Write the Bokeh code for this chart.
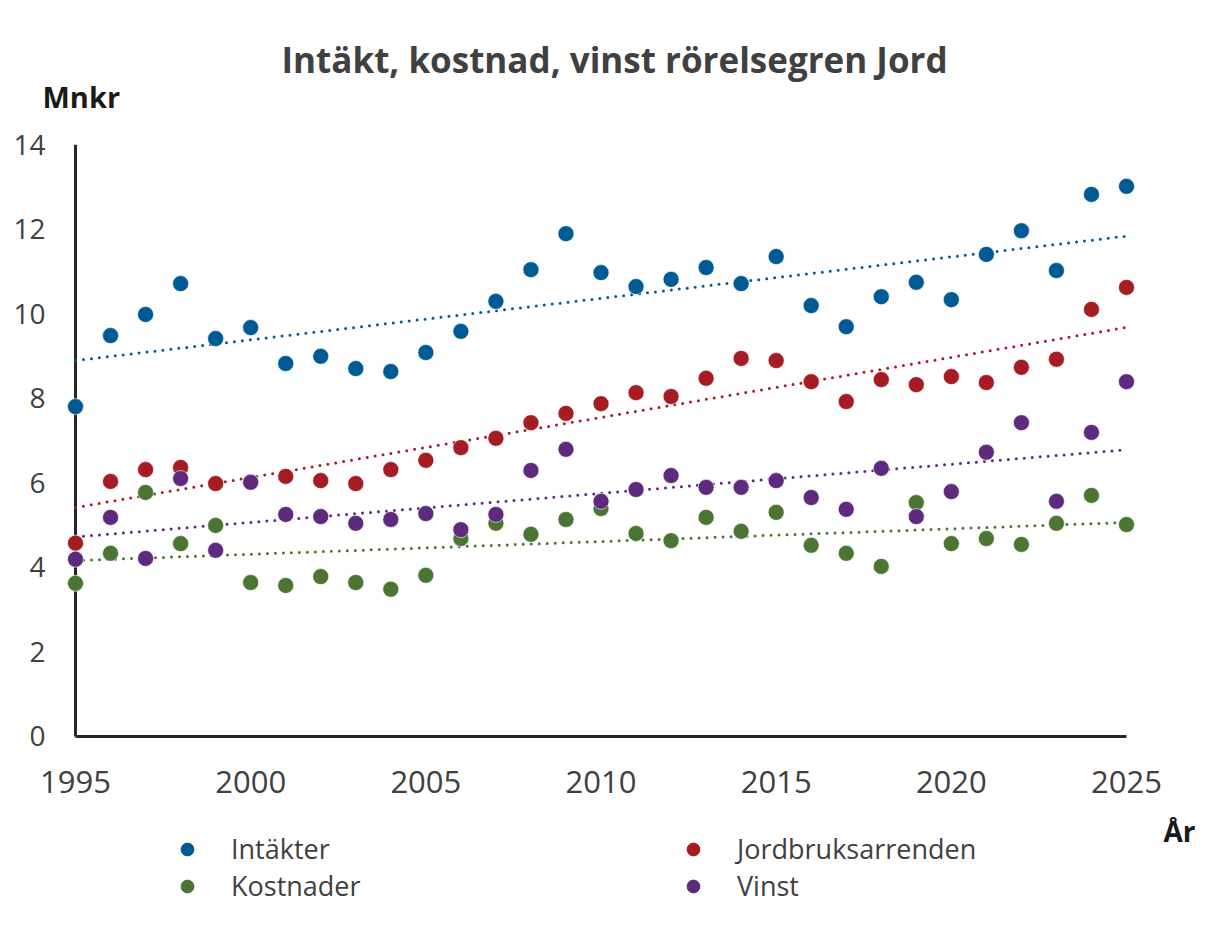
import numpy as np
from bokeh.plotting import figure
from bokeh.models import Range1d, Legend, LegendItem, Title, Label
from bokeh.layouts import column
from bokeh.embed import file_html
from bokeh.resources import INLINE

years = list(range(1995, 2026))

intakter = [7.80, 9.48, 9.98, 10.71, 9.41, 9.67, 8.82, 8.99, 8.70, 8.63,
            9.08, 9.58, 10.29, 11.04, 11.89, 10.97, 10.64, 10.81, 11.09, 10.71,
            11.35, 10.19, 9.69, 10.40, 10.74, 10.33, 11.40, 11.96, 11.02, 12.82,
            13.01]
jordbruk = [4.57, 6.03, 6.31, 6.36, 5.98, 6.02, 6.15, 6.05, 5.98, 6.31,
            6.53, 6.83, 7.05, 7.42, 7.64, 7.87, 8.13, 8.04, 8.47, 8.94,
            8.89, 8.39, 7.92, 8.44, 8.32, 8.51, 8.37, 8.73, 8.92, 10.10,
            10.62]
kostnader = [3.62, 4.33, 5.77, 4.56, 4.99, 3.64, 3.57, 3.78, 3.64, 3.48,
             3.81, 4.68, 5.04, 4.78, 5.13, 5.39, 4.80, 4.63, 5.18, 4.85,
             5.30, 4.52, 4.33, 4.02, 5.53, 4.56, 4.68, 4.54, 5.04, 5.70,
             5.01]
vinst = [4.19, 5.18, 4.21, 6.10, 4.40, 6.01, 5.25, 5.20, 5.04, 5.13,
         5.27, 4.89, 5.25, 6.29, 6.79, 5.56, 5.84, 6.17, 5.89, 5.89,
         6.05, 5.65, 5.37, 6.34, 5.20, 5.79, 6.72, 7.42, 5.56, 7.19,
         8.39]

series_names = ["Intäkter", "Jordbruksarrenden", "Kostnader", "Vinst"]
series_values = [intakter, jordbruk, kostnader, vinst]
colors = ["#005A94", "#A51C22", "#4A7533", "#5E2A7E"]
draw_order = [2, 0, 1, 3]

x_ticks = [1995, 2000, 2005, 2010, 2015, 2020, 2025]
y_ticks = [0, 2, 4, 6, 8, 10, 12, 14]

TEXT = "#404040"
FONT = "Open Sans"

# ---------------- main chart ----------------
p = figure(frame_width=1157, frame_height=594,
           x_range=Range1d(1994.486, 2027.512), y_range=Range1d(-0.05, 14),
           output_backend="svg", toolbar_location=None,
           min_border_left=57, min_border_right=0,
           min_border_top=144, min_border_bottom=78)
p.outline_line_color = None
p.xgrid.visible = False
p.ygrid.visible = False
p.background_fill_color = "white"
p.border_fill_color = "white"

p.title.text = "Intäkt, kostnad, vinst rörelsegren Jord"
p.title.align = "left"
p.title.offset = 224
p.title.standoff = -72
p.title.text_font = FONT
p.title.text_font_size = "35px"
p.title.text_font_style = "bold"
p.title.text_color = TEXT
p.add_layout(Title(text="Mnkr", align="left", offset=-15, standoff=57,
                   text_font=FONT, text_font_size="29px",
                   text_font_style="bold", text_color="#1a1a1a"), "above")

for ax in (p.xaxis[0], p.yaxis[0]):
    ax.axis_line_color = None
    ax.major_tick_line_color = None
    ax.minor_tick_line_color = None
    ax.major_label_text_color = TEXT
    ax.major_label_text_font = FONT
p.xaxis.ticker = x_ticks
p.yaxis.ticker = y_ticks
p.xaxis.major_label_text_font_size = "31px"
p.yaxis.major_label_text_font_size = "28px"
p.xaxis.major_label_standoff = 26
p.yaxis.major_label_standoff = 6

p.segment(x0=[years[0]], y0=[y_ticks[0]], x1=[years[0]], y1=[y_ticks[-1]],
          line_color="#262626", line_width=3)
p.segment(x0=[years[0]], y0=[y_ticks[0]], x1=[years[-1]], y1=[y_ticks[0]],
          line_color="#262626", line_width=3)

yrs = np.array(years, dtype=float)
for i in range(4):
    k, m = np.polyfit(yrs, np.array(series_values[i]), 1)
    xs = [years[0], years[-1]]
    p.line(xs, [k * x + m for x in xs], line_color=colors[i], line_width=3,
           line_dash="0 8", line_cap="round")

for i in draw_order:
    p.scatter(years, series_values[i], size=16, color=colors[i],
              line_color="white", line_width=0.6)

# ---------------- legend strip (pixel coordinates) ----------------
p2 = figure(width=1214, height=124, x_range=Range1d(57, 1214), y_range=Range1d(-124, 0),
            output_backend="svg", toolbar_location=None,
            min_border_left=57, min_border_right=0, min_border_top=0, min_border_bottom=0)
p2.axis.visible = False
p2.xgrid.visible = False
p2.ygrid.visible = False
p2.outline_line_color = None
p2.background_fill_color = "white"
p2.border_fill_color = "white"

# legend proxies: the same series, lying outside this strip's ranges
legend_renderers = [p2.scatter(years, series_values[i], size=16, color=colors[i])
                    for i in range(4)]

legend = Legend(items=[LegendItem(label=series_names[i], renderers=[legend_renderers[i]])
                       for i in [0, 1, 2, 3]],
                orientation="horizontal", ncols=2,
                location=(114, 36), margin=0, padding=0,
                border_line_color=None, background_fill_alpha=0,
                glyph_width=32, glyph_height=32, label_standoff=28,
                label_width=446, label_height=30, spacing=0,
                label_text_font=FONT, label_text_font_size="27px",
                label_text_color=TEXT)
p2.add_layout(legend, "center")

p2.add_layout(Label(x=1195, y=-14, text="År", text_align="right", text_baseline="middle",
                    text_font=FONT, text_font_size="28px", text_font_style="bold",
                    text_color="#1a1a1a"))

open("out.html", "w").write(file_html(column(p, p2, spacing=0), INLINE))
